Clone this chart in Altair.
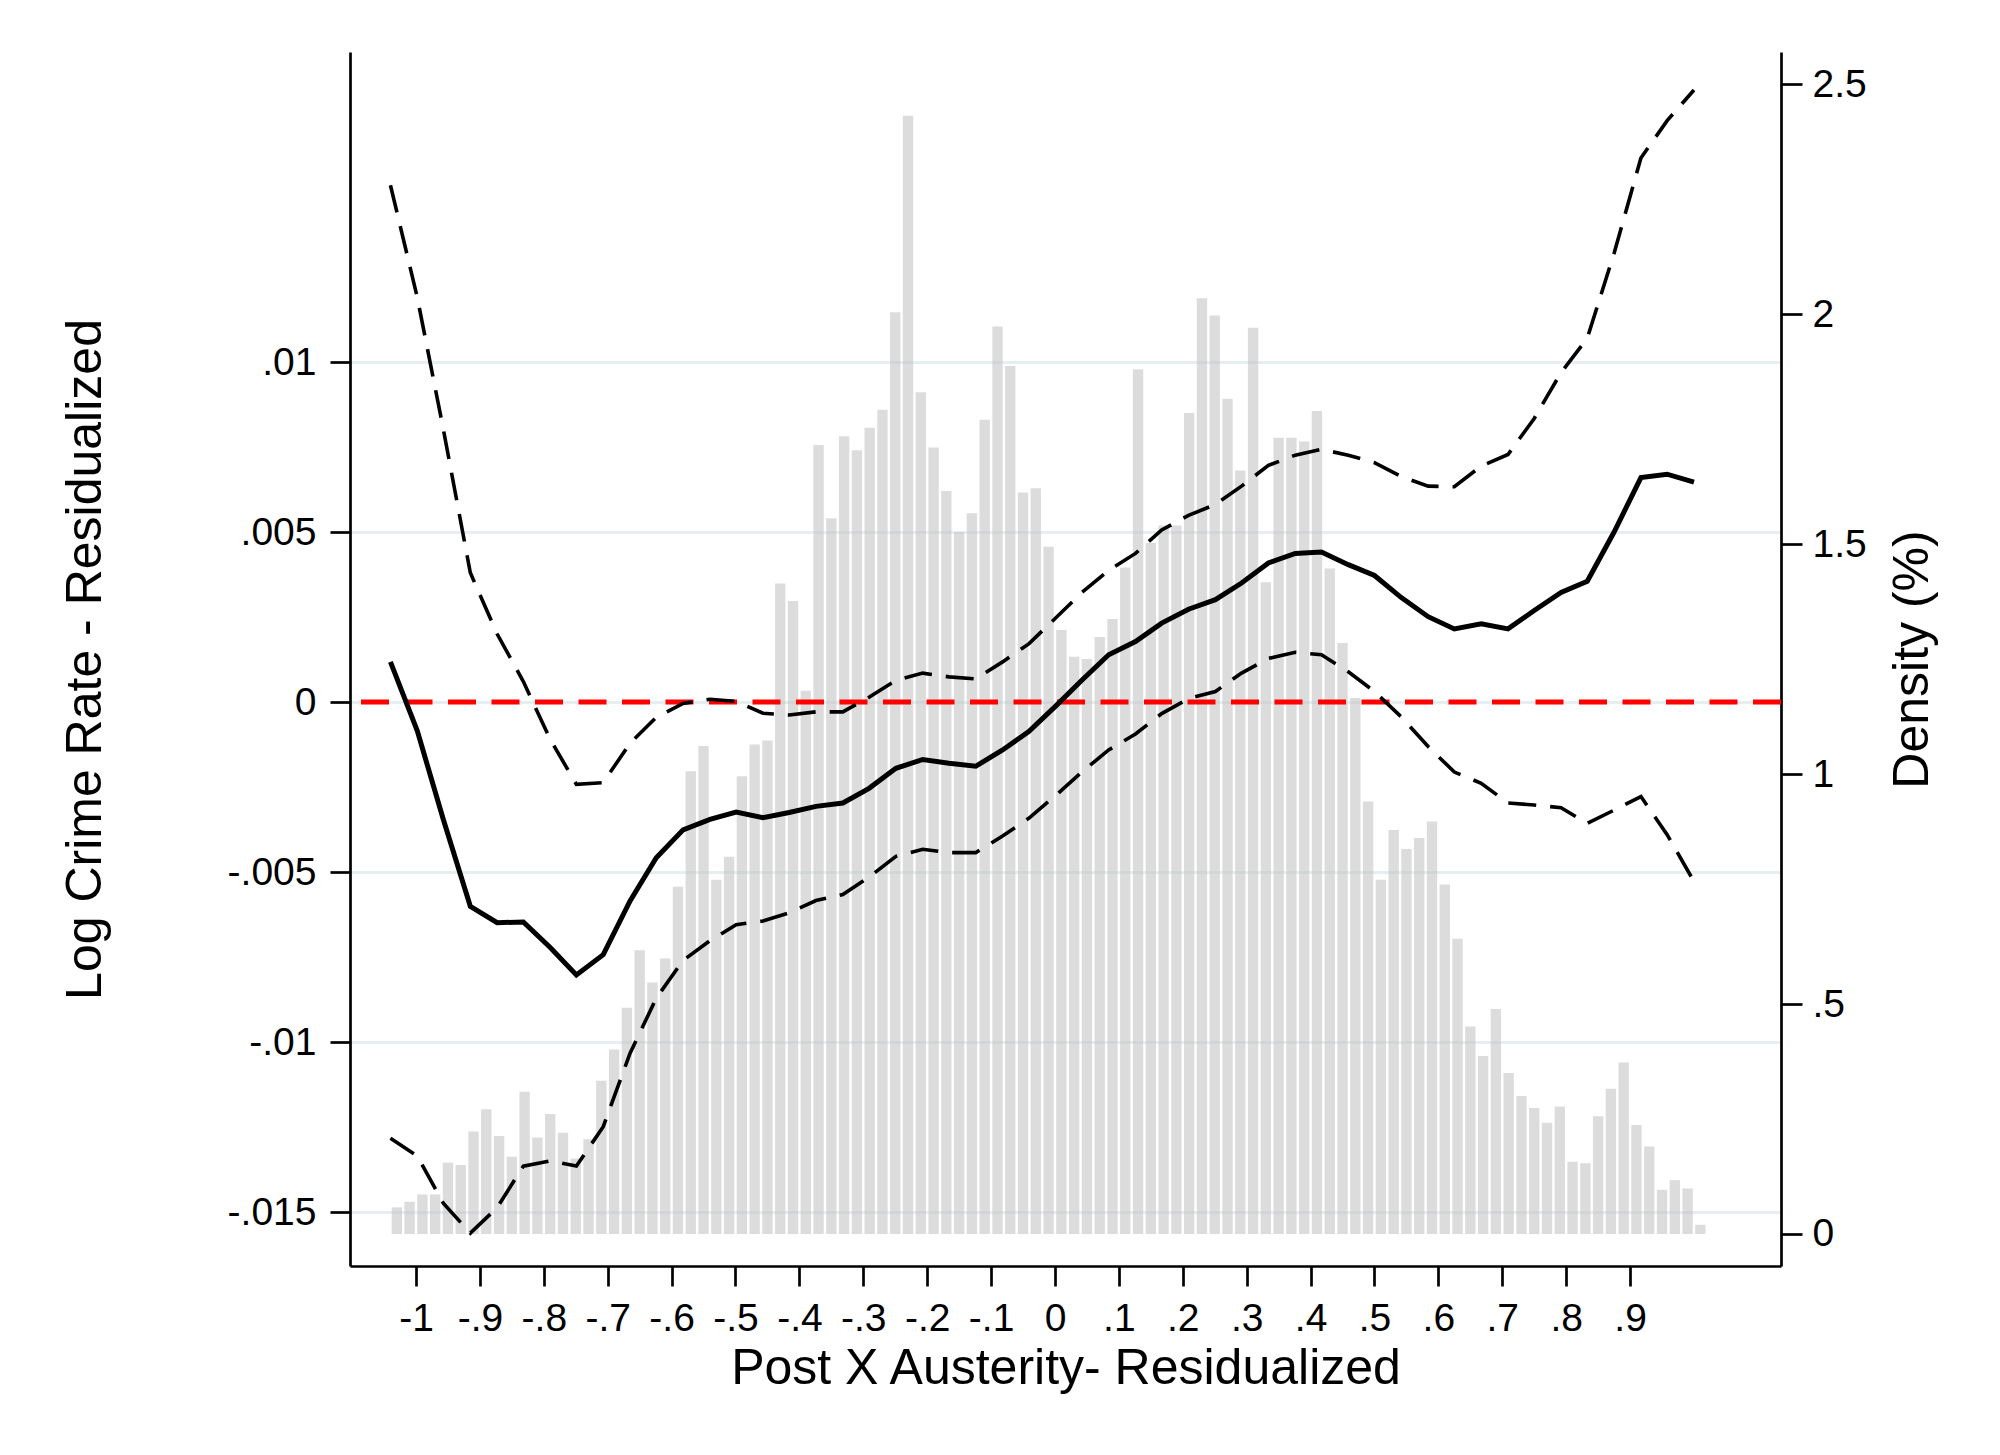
import altair as alt
import pandas as pd
import numpy as np

# ---------------- data ----------------
# histogram of Post X Austerity (bins of width 0.02, first bin centred at -1.03)
bin_first_center = -1.03
bin_width = 0.02
density = [
    0.058, 0.070, 0.086, 0.086, 0.155, 0.150, 0.223, 0.271, 0.213, 0.168,
    0.309, 0.210, 0.261, 0.220, 0.164, 0.206, 0.333, 0.401, 0.492, 0.617,
    0.547, 0.599, 0.755, 1.006, 1.061, 0.770, 0.820, 0.995, 1.064, 1.073,
    1.414, 1.376, 1.181, 1.715, 1.556, 1.734, 1.704, 1.753, 1.792, 2.004,
    2.431, 1.830, 1.710, 1.615, 1.526, 1.567, 1.770, 1.973, 1.887, 1.612,
    1.621, 1.494, 1.313, 1.255, 1.250, 1.298, 1.337, 1.449, 1.880, 1.502,
    1.540, 1.540, 1.785, 2.034, 1.997, 1.816, 1.660, 1.970, 1.417, 1.731,
    1.731, 1.723, 1.789, 1.447, 1.285, 1.165, 0.940, 0.770, 0.878, 0.837,
    0.861, 0.897, 0.760, 0.642, 0.451, 0.387, 0.489, 0.350, 0.300, 0.274,
    0.242, 0.277, 0.157, 0.154, 0.256, 0.316, 0.373, 0.237, 0.190, 0.096,
    0.117, 0.099, 0.020,
]

# local regression estimate and confidence band
x_grid = [
    -1.040, -0.998, -0.957, -0.915, -0.873, -0.832, -0.790, -0.749, -0.707, -0.665,
    -0.624, -0.582, -0.540, -0.499, -0.457, -0.416, -0.374, -0.332, -0.291, -0.249,
    -0.207, -0.166, -0.124, -0.082, -0.041, 0.001, 0.042, 0.084, 0.126, 0.167,
    0.209, 0.251, 0.292, 0.334, 0.376, 0.417, 0.459, 0.500, 0.542, 0.584,
    0.625, 0.667, 0.709, 0.750, 0.792, 0.833, 0.875, 0.917, 0.958, 1.000,
]
estimate = [
    0.00118, -0.00085, -0.00347, -0.00601, -0.00649, -0.00647, -0.00722, -0.00803, -0.00743, -0.00585,
    -0.00458, -0.00376, -0.00345, -0.00324, -0.00340, -0.00325, -0.00307, -0.00297, -0.00254, -0.00195,
    -0.00169, -0.00180, -0.00189, -0.00141, -0.00087, -0.00012, 0.00064, 0.00139, 0.00178, 0.00232,
    0.00273, 0.00301, 0.00350, 0.00409, 0.00437, 0.00441, 0.00404, 0.00372, 0.00307, 0.00251,
    0.00215, 0.00230, 0.00215, 0.00269, 0.00322, 0.00355, 0.00500, 0.00660, 0.00670, 0.00647,
]
upper = [
    0.01520, 0.01190, 0.00800, 0.00380, 0.00200, 0.00060, -0.00110, -0.00242, -0.00237, -0.00121,
    -0.00045, -0.00004, 0.00008, 0.00002, -0.00033, -0.00038, -0.00029, -0.00029, 0.00014, 0.00064,
    0.00085, 0.00074, 0.00068, 0.00118, 0.00171, 0.00247, 0.00322, 0.00387, 0.00437, 0.00506,
    0.00549, 0.00581, 0.00635, 0.00696, 0.00726, 0.00743, 0.00726, 0.00704, 0.00663, 0.00635,
    0.00633, 0.00694, 0.00728, 0.00834, 0.00969, 0.01070, 0.01320, 0.01600, 0.01710, 0.01800,
]
lower = [
    -0.01283, -0.01335, -0.01475, -0.01562, -0.01487, -0.01365, -0.01350, -0.01365, -0.01249, -0.01033,
    -0.00871, -0.00760, -0.00702, -0.00655, -0.00644, -0.00620, -0.00584, -0.00566, -0.00515, -0.00454,
    -0.00433, -0.00443, -0.00443, -0.00394, -0.00342, -0.00275, -0.00206, -0.00141, -0.00094, -0.00034,
    0.00010, 0.00031, 0.00085, 0.00128, 0.00146, 0.00139, 0.00089, 0.00031, -0.00044, -0.00131,
    -0.00206, -0.00239, -0.00297, -0.00303, -0.00311, -0.00357, -0.00318, -0.00278, -0.00390, -0.00528,
]
ref_line = [0.0]

x_ticks = [-1, -0.9, -0.8, -0.7, -0.6, -0.5, -0.4, -0.3, -0.2, -0.1, 0,
           0.1, 0.2, 0.3, 0.4, 0.5, 0.6, 0.7, 0.8, 0.9]
left_ticks = [-0.015, -0.01, -0.005, 0, 0.005, 0.01]
right_ticks = [0, 0.5, 1, 1.5, 2, 2.5]

# ---------------- tables ----------------
centers = np.round(bin_first_center + bin_width * np.arange(len(density)), 2)
hist_df = pd.DataFrame({"center": centers, "density": density})
hist_df["base"] = 0.0
line_df = pd.DataFrame({"x": x_grid, "est": estimate, "hi": upper, "lo": lower})
ref_df = pd.DataFrame({"y": ref_line})

# ---------------- styling ----------------
FONT = "Liberation Sans"
W, H = 1431, 1214

x_scale = alt.Scale(domain=[-1.1033, 1.1362], nice=False, zero=False)
yl_scale = alt.Scale(domain=[-0.016588, 0.019118], nice=False, zero=False)
yr_scale = alt.Scale(domain=[-0.06957, 2.5696], nice=False, zero=False)

common = dict(
    domainColor="black", domainWidth=2.7, tickColor="black", tickWidth=2.7,
    labelFont=FONT, labelColor="black", labelFontSize=39,
    titleFont=FONT, titleColor="black", titleFontSize=50, titleFontWeight="normal",
    labelFlush=False, labelOverlap=False, titleBaseline="alphabetic", titleAlign="center",
)

x_axis = alt.Axis(
    orient="bottom", values=x_ticks, grid=False, tickSize=20, labelPadding=44,
    labelBaseline="alphabetic",
    labelExpr="(datum.value < 0 ? '-' : '') + replace(format(abs(datum.value), '.1~f'), '0.', '.')",
    title="Post X Austerity- Residualized", titleX=W / 2, titleY=117, titleAngle=0,
    **common,
)
left_axis = alt.Axis(
    orient="left", values=left_ticks, grid=True, gridColor="#e6eef0", gridWidth=3,
    tickSize=20, labelPadding=14,
    labelExpr="(datum.value < 0 ? '-' : '') + replace(format(abs(datum.value), '.3~f'), '0.', '.')",
    title="Log Crime Rate - Residualized", titleX=-250, titleY=607, titleAngle=270,
    **common,
)
right_axis = alt.Axis(
    orient="right", values=right_ticks, grid=False, tickSize=21, labelPadding=10,
    labelExpr="replace(format(datum.value, '.1~f'), '0.', '.')",
    title="Density (%)", titleX=146, titleY=607, titleAngle=270,
    **common,
)

bars = alt.Chart(hist_df).transform_calculate(
    x0="datum.center - 0.0081", x1="datum.center + 0.0081"
).mark_rect(color="#c4c4c4", opacity=0.6).encode(
    x=alt.X("x0:Q", scale=x_scale, axis=x_axis),
    x2="x1:Q",
    y=alt.Y("density:Q", scale=yr_scale, axis=right_axis),
    y2="base:Q",
)

ref = alt.Chart(ref_df).mark_rule(color="#ff0000", strokeWidth=5.2, strokeDash=[28, 15.5]).encode(
    y=alt.Y("y:Q", scale=yl_scale, axis=left_axis),
)

base = alt.Chart(line_df)
hi_line = base.mark_line(color="black", strokeWidth=3.6, strokeDash=[28, 14]).encode(
    x=alt.X("x:Q", scale=x_scale, axis=x_axis),
    y=alt.Y("hi:Q", scale=yl_scale, axis=left_axis),
)
lo_line = base.mark_line(color="black", strokeWidth=3.6, strokeDash=[28, 14]).encode(
    x=alt.X("x:Q", scale=x_scale, axis=x_axis),
    y=alt.Y("lo:Q", scale=yl_scale, axis=left_axis),
)
est_line = base.mark_line(color="black", strokeWidth=5).encode(
    x=alt.X("x:Q", scale=x_scale, axis=x_axis),
    y=alt.Y("est:Q", scale=yl_scale, axis=left_axis),
)

inner = alt.layer(ref, hi_line, lo_line, est_line)

chart = alt.layer(bars, inner).resolve_scale(y="independent").properties(
    width=W, height=H,
    autosize=alt.AutoSizeParams(type="none"),
    padding={"left": 342, "top": 44, "right": 200, "bottom": 170},
    background="white",
).configure_view(stroke=None)

chart.save("out.html", embed_options={"renderer": "svg", "actions": False})
